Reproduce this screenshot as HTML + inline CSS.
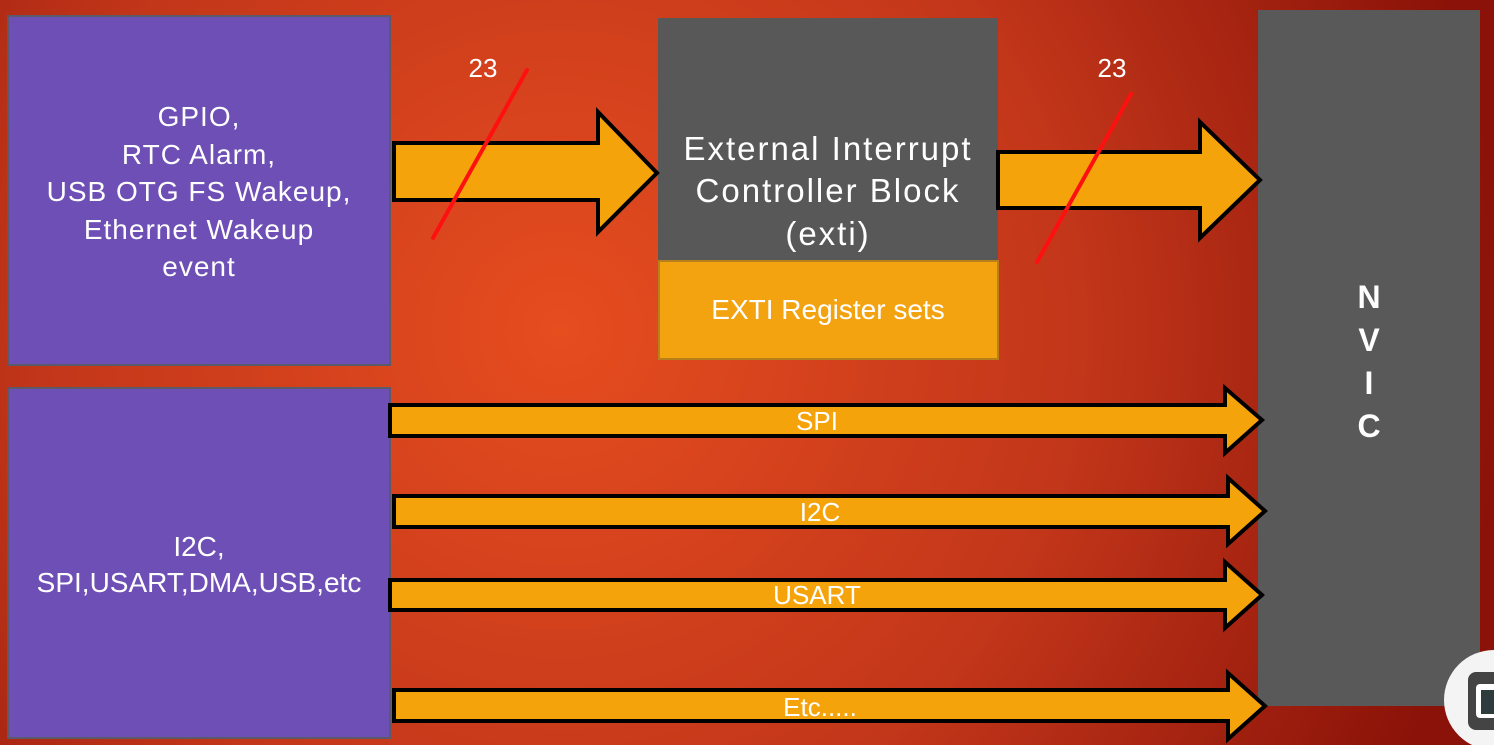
<!DOCTYPE html>
<html><head><meta charset="utf-8"><style>
html,body{margin:0;padding:0}
body{width:1494px;height:745px;overflow:hidden;font-family:"Liberation Sans",sans-serif}
</style></head><body>
<svg width="1494" height="745" viewBox="0 0 1494 745">
<defs>
<radialGradient id="bg" cx="560" cy="330" r="950" gradientUnits="userSpaceOnUse">
<stop offset="0" stop-color="#e64d1f"/><stop offset="0.55" stop-color="#c2361a"/><stop offset="1" stop-color="#8a1208"/>
</radialGradient>
</defs>
<rect width="1494" height="745" fill="url(#bg)"/>
<g>
<rect x="8" y="16" width="382" height="349" fill="#6e4fb5" stroke="#5a5a6a" stroke-width="2"/>
<g fill="#fff" font-size="28" text-anchor="middle" letter-spacing="1">
<text x="199" y="126">GPIO,</text><text x="199" y="164">RTC Alarm,</text><text x="199" y="201">USB OTG FS Wakeup,</text><text x="199" y="239">Ethernet Wakeup</text><text x="199" y="276">event</text></g></g>
<g>
<rect x="8" y="388" width="382" height="350" fill="#6e4fb5" stroke="#5a5a6a" stroke-width="2"/>
<g fill="#fff" font-size="28" text-anchor="middle"><text x="199" y="556">I2C,</text><text x="199" y="592">SPI,USART,DMA,USB,etc</text></g></g>
<g>
<rect x="658" y="18" width="340" height="242" fill="#585858"/>
<g fill="#fff" font-size="33" text-anchor="middle" letter-spacing="2"><text x="828" y="160">External Interrupt</text><text x="828" y="202">Controller Block</text><text x="828" y="245">(exti)</text></g></g>
<g>
<rect x="659" y="261" width="339" height="98" fill="#f2a30f" stroke="#b8801a" stroke-width="2"/>
<text x="828" y="319" fill="#fff" font-size="28" text-anchor="middle">EXTI Register sets</text></g>
<g>
<rect x="1258" y="10" width="222" height="696" fill="#595959"/>
<g fill="#fff" font-size="32" font-weight="bold" text-anchor="middle"><text x="1369" y="308">N</text><text x="1369" y="351">V</text><text x="1369" y="394">I</text><text x="1369" y="437">C</text></g></g>
<g fill="#f5a30a" stroke="#000" stroke-width="4" stroke-linejoin="miter">
<polygon points="394,143 598,143 598,112 657,173 598,232 598,200 394,200"/>
<polygon points="998,152 1200,152 1200,122 1260,180 1200,238 1200,208 998,208"/>
<polygon points="390,405 1225,405 1225,388 1262,420 1225,453 1225,436 390,436"/>
<polygon points="394,496 1228,496 1228,478 1265,511 1228,544 1228,527 394,527"/>
<polygon points="390,580 1225,580 1225,562 1262,595 1225,628 1225,610 390,610"/>
<polygon points="394,690 1228,690 1228,673 1265,706 1228,739 1228,721 394,721"/>
</g>
<g fill="#fff" font-size="26" text-anchor="middle">
<text x="817" y="430">SPI</text>
<text x="820" y="521">I2C</text>
<text x="817" y="604">USART</text>
<text x="820" y="716">Etc.....</text>
<text x="483" y="77">23</text>
<text x="1112" y="77">23</text>
</g>
<line x1="433" y1="238" x2="527" y2="70" stroke="#ff1010" stroke-width="4" stroke-linecap="round"/>
<line x1="1037" y1="262" x2="1131" y2="94" stroke="#ff1010" stroke-width="4" stroke-linecap="round"/>
<g>
<circle cx="1494" cy="700" r="50" fill="#f4f4f4"/>
<rect x="1468" y="672" width="40" height="58" rx="8" fill="#444"/>
<rect x="1476" y="684" width="24" height="34" rx="4" fill="#fff"/>
<rect x="1481" y="690" width="14" height="24" fill="#2d3d3d"/>
</g>
</svg>
</body></html>
